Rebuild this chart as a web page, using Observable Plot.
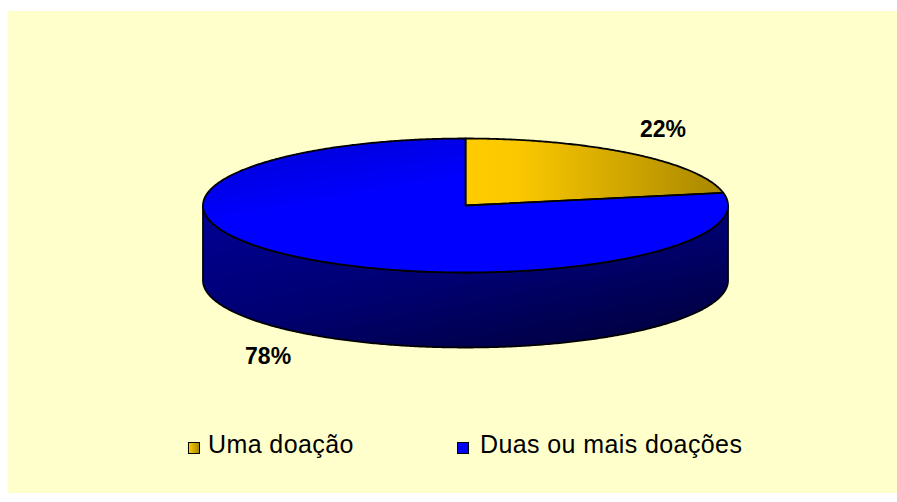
<!DOCTYPE html>
<html>
<head>
<meta charset="utf-8">
<script src="https://cdn.jsdelivr.net/npm/d3@7"></script>
<script src="https://cdn.jsdelivr.net/npm/@observablehq/plot@0.6"></script>
<style>
  html, body { margin: 0; padding: 0; background: #ffffff; }
  #page { position: relative; width: 897px; height: 502px; overflow: hidden; font-family: Arial, "Liberation Sans", sans-serif; }
  #frame { position: absolute; left: 8px; top: 11px; width: 889px; height: 482px; background: #FFFFCC; }
  #chart { position: absolute; left: 0; top: 0; }
  .sw { position: absolute; width: 10px; height: 10px; border: 1px solid #000; box-sizing: content-box; }
  .lt { position: absolute; font-size: 25px; line-height: 25px; letter-spacing: 0.4px; color: #000; white-space: nowrap; }
</style>
</head>
<body>
<div id="page">
  <div id="frame"></div>
  <div id="chart"></div>
  <div id="legend"></div>
</div>
<script>
// ---- data ----
const categories = ["Uma doação", "Duas ou mais doações"];
const values = [22, 78];
const valueLabels = ["22%", "78%"];

// ---- geometry / style ----
const W = 897, H = 420;
const CX = 465, CY = 205, R = 262.5;
const TILT = 67 / R, DEPTH = 75 / R;
const topFills = ["url(#gYellow)", "url(#gBlueTop)"];
const sideFills = ["url(#gYellowSide)", "url(#gBlueSide)"];
const legendSwatch = ["linear-gradient(to right, #FFCC00, #A88700)", "#0000FF"];

const rows = categories.map((c, i) => ({category: c, value: values[i], label: valueLabels[i], i}));
const arcs = d3.pie().sort(null).value(d => d.value).startAngle(0).endAngle(2 * Math.PI)(rows);

const step = Math.PI / 360;
function arcPts(a0, a1, k, dy) {
  const pts = [];
  const n = Math.max(2, Math.ceil((a1 - a0) / step));
  for (let j = 0; j <= n; j++) {
    const a = a0 + (a1 - a0) * j / n;
    pts.push({x: k * Math.sin(a), y: TILT * k * Math.cos(a) + dy});
  }
  return pts;
}

// top faces
const tops = arcs.map(a => [{x: 0, y: 0}, ...arcPts(a.startAngle, a.endAngle, 1, 0)]);
// side walls (visible front half only)
const sides = arcs.map(a => {
  const lo = Math.max(a.startAngle, Math.PI / 2), hi = Math.min(a.endAngle, 3 * Math.PI / 2);
  if (lo >= hi) return [];
  return [...arcPts(lo, hi, 1, 0), ...arcPts(lo, hi, 1, -DEPTH).reverse()];
});

// label positions
const labelPos = arcs.map(a => {
  const m = (a.startAngle + a.endAngle) / 2;
  const c = Math.cos(m);
  const k = 1.18;
  return {
    x: k * Math.sin(m),
    y: TILT * k * c + (c < 0 ? -DEPTH - 15 / R : 15 / R),
    label: a.data.label
  };
});

const marks = [];
arcs.forEach((a, i) => {
  if (sides[i].length) marks.push(Plot.line(sides[i], {x: "x", y: "y", fill: sideFills[i], stroke: "#000", strokeWidth: 1.8, curve: "linear-closed", strokeLinejoin: "round"}));
});
arcs.forEach((a, i) => {
  marks.push(Plot.line(tops[i], {x: "x", y: "y", fill: topFills[i], stroke: "#000", strokeWidth: 1.8, curve: "linear-closed", strokeLinejoin: "round"}));
});
marks.push(Plot.text(labelPos, {x: "x", y: "y", text: "label", fontSize: 23, fontWeight: "bold", fill: "#000", fontFamily: "Arial, 'Liberation Sans', sans-serif"}));

const chart = Plot.plot({
  width: W, height: H, margin: 0,
  x: {domain: [-CX / R, (W - CX) / R], range: [0, W], axis: null},
  y: {domain: [-(H - CY) / R, CY / R], range: [H, 0], axis: null},
  style: {background: "transparent", overflow: "visible", fontFamily: "Arial, 'Liberation Sans', sans-serif"},
  marks
});

// gradients
const svg = d3.select(chart);
const defs = svg.insert("defs", ":first-child");
function grad(id, x1, y1, x2, y2, stops) {
  const g = defs.append("linearGradient").attr("id", id)
    .attr("x1", x1).attr("y1", y1).attr("x2", x2).attr("y2", y2);
  stops.forEach(([o, c]) => g.append("stop").attr("offset", o).attr("stop-color", c));
}
grad("gYellow", 0, 0, 1, 0, [[0, "#FFCC00"], [0.2, "#FBC800"], [1, "#A88700"]]);
grad("gYellowSide", 0, 0, 1, 1, [[0, "#A88700"], [1, "#5A4800"]]);
grad("gBlueTop", 0, 0, 0.55, 0.8, [[0, "#0000D0"], [0.55, "#0000FF"], [1, "#0000FF"]]);
grad("gBlueSide", 0.15, 0, 0.9, 1, [[0, "#000092"], [0.5, "#000070"], [1, "#00003A"]]);

document.getElementById("chart").appendChild(chart);

// legend
const legend = document.getElementById("legend");
const swX = [188, 457], txX = [208, 480];
categories.forEach((c, i) => {
  const sw = document.createElement("div");
  sw.className = "sw";
  sw.style.left = swX[i] + "px";
  sw.style.top = "442px";
  sw.style.background = legendSwatch[i];
  legend.appendChild(sw);
  const t = document.createElement("div");
  t.className = "lt";
  t.style.left = txX[i] + "px";
  t.style.top = "431.5px";
  t.textContent = c;
  legend.appendChild(t);
});
</script>
</body>
</html>
